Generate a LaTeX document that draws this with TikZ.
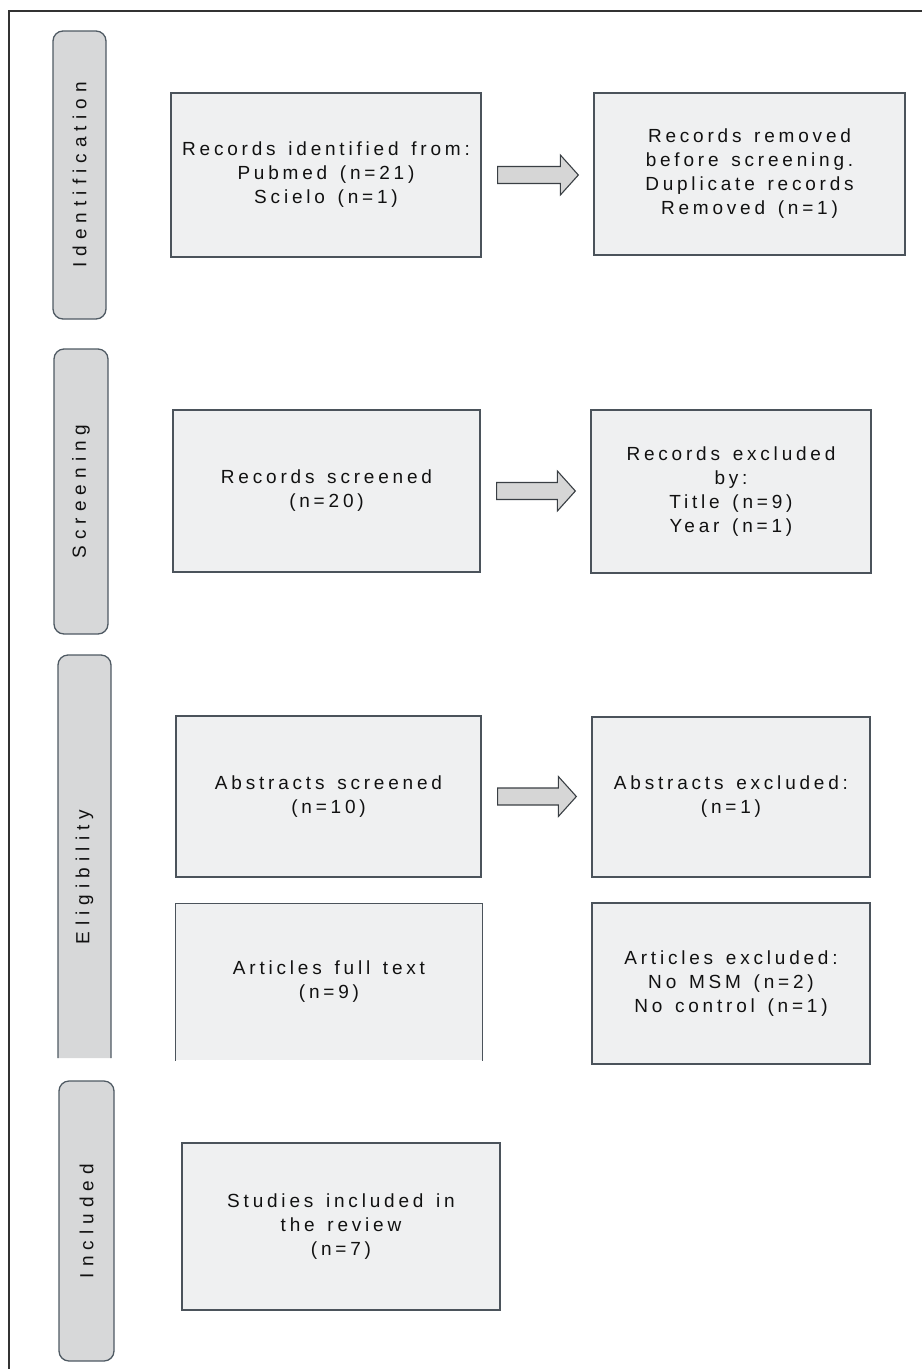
\documentclass[tikz,border=0pt]{standalone}
\usepackage{fontspec}
\setmainfont{Liberation Sans}
\newfontfamily\boxfont[LetterSpace=20,WordSpace=1.4]{Liberation Sans}
\newfontfamily\sidefont[LetterSpace=32]{Liberation Sans}
\usetikzlibrary{calc}
\definecolor{boxfill}{HTML}{EFF0F1}
\definecolor{boxline}{HTML}{4B535B}
\definecolor{sidefill}{HTML}{D7D8D9}
\definecolor{sideline}{HTML}{4F5A63}
\definecolor{arrowfill}{HTML}{D6D6D6}
\definecolor{arrowline}{HTML}{3A3F44}
\definecolor{inktext}{HTML}{111111}
\tikzset{
  box/.style={draw=boxline, fill=boxfill, line width=1.3pt, inner sep=0pt, align=center,
    text=inktext, font=\boxfont\fontsize{19}{24}\selectfont},
  sidebox/.style={draw=sideline, fill=sidefill, line width=1.3pt, rounded corners=10pt,
    inner sep=0pt, rotate=90, text=inktext, font=\sidefont\fontsize{19}{22}\selectfont},
  blockarrow/.style={draw=arrowline, fill=arrowfill, line width=1.1pt, line join=miter}
}
\begin{document}
\begin{tikzpicture}[x=1pt,y=-1pt]
      \useasboundingbox (0,0) rectangle (922,1369);
      % outer frame
      \draw[line width=1.2pt, color=black!80] (9,1369) -- (9,11) -- (922,11);

      % phase labels
      \node[sidebox, minimum width=288, minimum height=53] (ident) at (79.5,175) {Identification};
      \node[sidebox, minimum width=285, minimum height=54] (screen) at (81,491.5) {Screening};
      \fill[sidefill, rounded corners=10pt] (58,1058) -- (58,655) -- (111,655) -- (111,1058);
      \draw[sideline, line width=1.3pt, rounded corners=10pt] (58,1058) -- (58,655) -- (111,655) -- (111,1058);
      \node[sidebox, draw=none, fill=none] (elig) at (84.5,877) {Eligibility};
      \node[sidebox, minimum width=280, minimum height=55] (incl) at (86.5,1221) {Included};

      % boxes
      \node[box, minimum width=310, minimum height=164] (rid) at (326,175) {Records identified from:\\Pubmed (n=21)\\Scielo (n=1)};
      \node[box, minimum width=311, minimum height=162] (rrm) at (749.5,174) {Records removed\\before screening.\\Duplicate records\\Removed (n=1)};
      \node[box, minimum width=307, minimum height=162] (rsc) at (326.5,491) {Records screened\\(n=20)};
      \node[box, minimum width=280, minimum height=163] (rex) at (731,491.5) {Records excluded\\by:\\Title (n=9)\\Year (n=1)};
      \node[box, minimum width=305, minimum height=161] (asc) at (328.5,796.5) {Abstracts screened\\(n=10)};
      \node[box, minimum width=278, minimum height=160] (aex) at (731,797) {Abstracts excluded:\\(n=1)};
      \node[box, draw=none, minimum width=306, minimum height=156] (aft) at (329,982) {Articles full text\\(n=9)};
      \draw[boxline, line width=1.3pt] (aft.south west) -- (aft.north west) -- (aft.north east) -- (aft.south east);
      \node[box, minimum width=278, minimum height=161] (arx) at (731,983.5) {Articles excluded:\\No MSM (n=2)\\No control (n=1)};
      \node[box, minimum width=318, minimum height=167] (sin) at (341,1226.5) {Studies included in\\the review\\(n=7)};

      % block arrows
      \foreach \from/\to in {rid/rrm, rsc/rex, asc/aex}
        \draw[blockarrow] let \p1=($(\from.east)+(16,0)$), \p2=($(\to.west)+(-15,0)$) in
          (\x1,\y1+8.5pt) -- (\x2-18pt,\y1+8.5pt) -- (\x2-18pt,\y1+20pt) -- (\x2,\y1)
          -- (\x2-18pt,\y1-20pt) -- (\x2-18pt,\y1-8.5pt) -- (\x1,\y1-8.5pt) -- cycle;
    \end{tikzpicture}
\end{document}
